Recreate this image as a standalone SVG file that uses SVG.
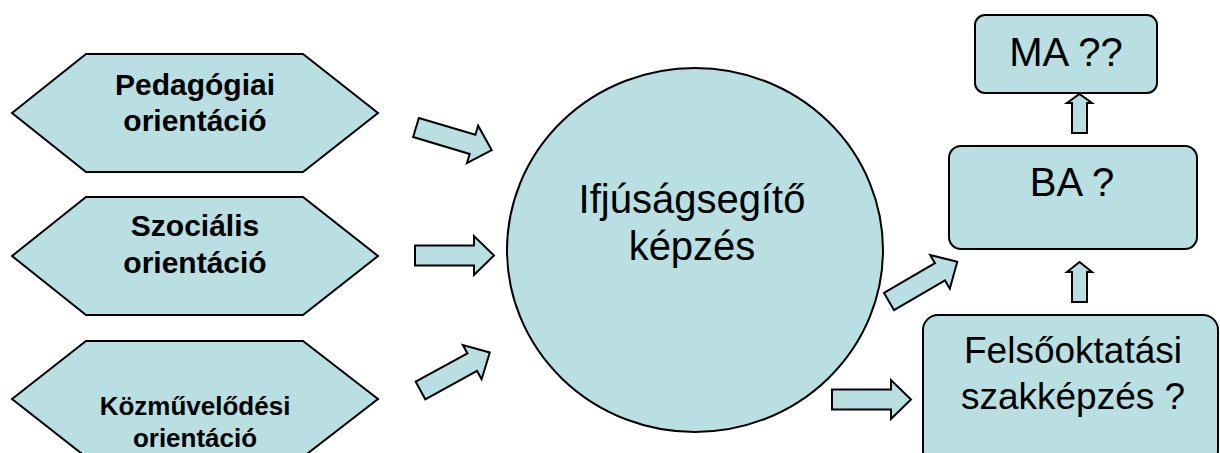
<svg xmlns="http://www.w3.org/2000/svg" width="1220" height="453" viewBox="0 0 1220 453">
<defs>
<style>
.shape{fill:#B9DFE2;stroke:#000;stroke-width:2;stroke-linejoin:miter}
.bold{font-family:"Liberation Sans",Arial,sans-serif;font-weight:bold;text-anchor:middle;fill:#000}
.big{font-family:"Liberation Sans",Arial,sans-serif;text-anchor:middle;fill:#000}
</style>
<path id="blk" d="M0,-10 L59,-10 L59,-19.5 L79,0 L59,19.5 L59,10 L0,10 Z"/>
</defs>
<rect width="1220" height="453" fill="#fff"/>
<g id="hex-pedagogiai">
<polygon class="shape" points="12,113 86,54 303,54 378,113 303,172 86,172"/>
<text class="bold" font-size="30" x="195" y="95">Pedagógiai</text>
<text class="bold" font-size="30" x="195" y="131">orientáció</text>
</g>
<g id="hex-szocialis">
<polygon class="shape" points="12,256 86,197 303,197 378,256 303,315 86,315"/>
<text class="bold" font-size="30" x="195" y="236">Szociális</text>
<text class="bold" font-size="30" x="195" y="273">orientáció</text>
</g>
<g id="hex-kozmuvelodesi">
<polygon class="shape" points="12,399 86,341 303,341 378,399 303,457 86,457"/>
<text class="bold" font-size="26" x="195" y="415">Közművelődési</text>
<text class="bold" font-size="26" x="195" y="447">orientáció</text>
</g>
<g id="circle-ifjusag">
<ellipse class="shape" cx="695" cy="250" rx="188" ry="182"/>
<text class="big" font-size="40" x="692" y="213">Ifjúságsegítő</text>
<text class="big" font-size="40" x="692" y="260">képzés</text>
</g>
<g id="box-ma">
<rect class="shape" x="975" y="15" width="182" height="78" rx="10"/>
<text class="big" font-size="40" x="1066" y="66">MA ??</text>
</g>
<g id="box-ba">
<rect class="shape" x="949" y="146" width="248" height="103" rx="12"/>
<text class="big" font-size="40" x="1072" y="196">BA ?</text>
</g>
<g id="box-felso">
<rect class="shape" x="923" y="315" width="295" height="150" rx="15"/>
<text class="big" font-size="37" x="1073" y="363">Felsőoktatási</text>
<text class="big" font-size="37" x="1073" y="409">szakképzés ?</text>
</g>
<g id="connectors">
<use class="shape" href="#blk" transform="translate(416,127.5) rotate(16.6)"/>
<use class="shape" href="#blk" transform="translate(415,255.5)"/>
<use class="shape" href="#blk" transform="translate(420.5,390.5) rotate(-28.7)"/>
<use class="shape" href="#blk" transform="translate(889,301.5) rotate(-30.2)"/>
<use class="shape" href="#blk" transform="translate(832,399.5)"/>
<path class="shape" d="M1072,133 V103 H1067 L1079.5,94 L1092,103 H1087 V133 Z"/>
<path class="shape" d="M1072,302 V272 H1067 L1079.5,262 L1092,272 H1087 V302 Z"/>
</g>
</svg>
